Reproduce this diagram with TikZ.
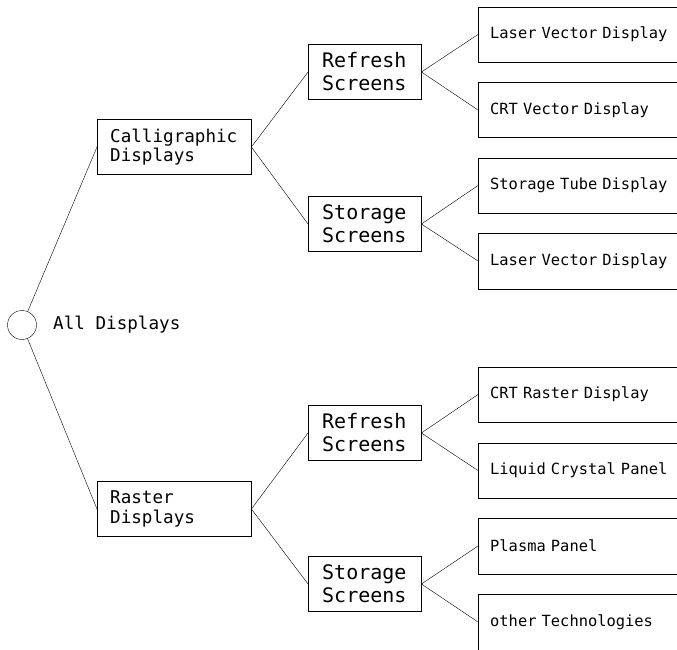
\documentclass[tikz,border=0pt]{standalone}
\usepackage{fontspec}
\setmonofont{DejaVu Sans Mono}[WordSpace={1,0,0}]
\usetikzlibrary{positioning}
\tikzset{
line width=1.6pt,
every node/.style={font=\ttfamily},
family/.style={draw, rectangle, anchor=west, align=left, minimum height=55pt, inner xsep=13pt, text width=128pt, font=\ttfamily\fontsize{17.6}{19.5}\selectfont}, % first split
screen/.style={draw, rectangle, anchor=west, align=left, minimum height=55pt, inner xsep=14pt, text width=85pt, font=\ttfamily\fontsize{20}{23}\selectfont}, % second split
tech/.style={rectangle, anchor=west, align=left, minimum height=55pt, inner xsep=12pt, text width=200pt, font=\ttfamily\fontsize{15.4}{18}\selectfont}, % leaves, box left open on the right
}

\begin{document}
\begin{tikzpicture}[x=1pt, y=-1pt]
        \clip (0,0) rectangle (677,650);

        \node[circle, draw, minimum size=29pt, inner sep=0pt] (root) at (22,325) {};
        \node[right=13pt of root, font=\ttfamily\fontsize{17.6}{20}\selectfont] (rootlabel) {All Displays};

        \node[family] (cal) at (97,147) {Calligraphic\\Displays};
        \node[family] (ras) at (97,509) {Raster\\Displays};

        \node[screen] (calref) at (308,72) {Refresh\\Screens};
        \node[screen] (calsto) at (308,224) {Storage\\Screens};
        \node[screen] (rasref) at (308,433) {Refresh\\Screens};
        \node[screen] (rassto) at (308,584) {Storage\\Screens};

        \node[tech] (t1) at (478,34.5) {Laser Vector Display};
        \node[tech] (t2) at (478,110) {CRT Vector Display};
        \node[tech] (t3) at (478,185.5) {Storage Tube Display};
        \node[tech] (t4) at (478,261) {Laser Vector Display};
        \node[tech] (t5) at (478,394.5) {CRT Raster Display};
        \node[tech] (t6) at (478,470.5) {Liquid Crystal Panel};
        \node[tech] (t7) at (478,546) {Plasma Panel};
        \node[tech] (t8) at (478,622) {other Technologies};

        % open boxes round the leaves
        \foreach \t in {t1,t2,t3,t4,t5,t6,t7,t8}
            \draw (\t.north east) -- (\t.north west) -- (\t.south west) -- (\t.south east);

        \draw (root) -- (cal.west)
              (root) -- (ras.west);
        \draw (cal.east) -- (calref.west)
              (cal.east) -- (calsto.west)
              (ras.east) -- (rasref.west)
              (ras.east) -- (rassto.west);
        \draw (calref.east) -- (t1.west)
              (calref.east) -- (t2.west)
              (calsto.east) -- (t3.west)
              (calsto.east) -- (t4.west)
              (rasref.east) -- (t5.west)
              (rasref.east) -- (t6.west)
              (rassto.east) -- (t7.west)
              (rassto.east) -- (t8.west);
\end{tikzpicture}
\end{document}
